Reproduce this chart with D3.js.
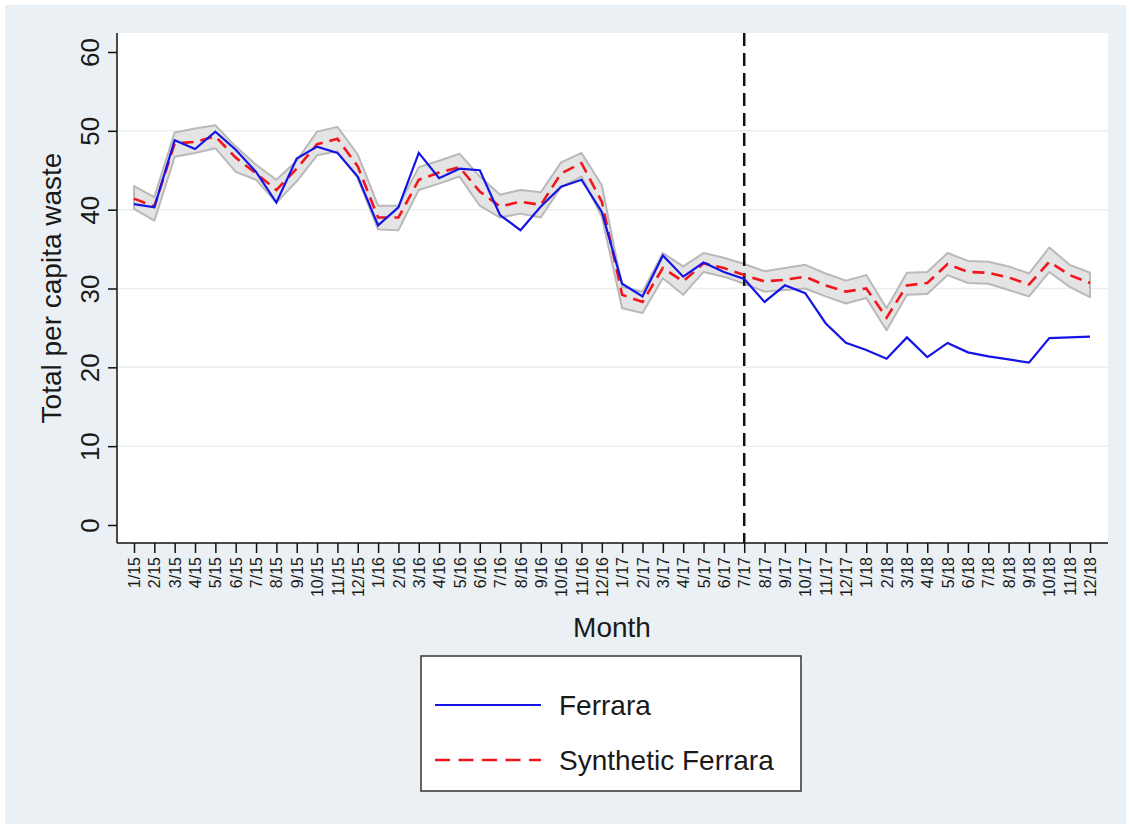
<!DOCTYPE html>
<html>
<head>
<meta charset="utf-8">
<script src="https://cdn.jsdelivr.net/npm/d3@7"></script>
<style>
  body { margin: 0; background: #fff; }
  svg { display: block; font-family: "Liberation Sans", Arial, sans-serif; }
</style>
</head>
<body>
<svg id="chart"></svg>
<script>
const svgWidth = 1130;
const svgHeight = 828;

// months 1/15 .. 12/18
const months = [
  "1/15","2/15","3/15","4/15","5/15","6/15","7/15","8/15","9/15","10/15","11/15","12/15",
  "1/16","2/16","3/16","4/16","5/16","6/16","7/16","8/16","9/16","10/16","11/16","12/16",
  "1/17","2/17","3/17","4/17","5/17","6/17","7/17","8/17","9/17","10/17","11/17","12/17",
  "1/18","2/18","3/18","4/18","5/18","6/18","7/18","8/18","9/18","10/18","11/18","12/18"
];

const ferrara = [
  40.7, 40.3, 48.8, 47.7, 49.9, 47.6, 44.8, 40.9, 46.5, 48.0, 47.2, 44.2,
  38.0, 40.3, 47.2, 44.0, 45.2, 45.0, 39.3, 37.4, 40.4, 42.9, 43.8, 39.7,
  30.6, 29.0, 34.2, 31.5, 33.3, 32.1, 31.2, 28.3, 30.4, 29.4, 25.6, 23.1,
  22.2, 21.1, 23.8, 21.3, 23.1, 21.9, 21.4, 21.0, 20.6, 23.7, 23.8, 23.9
];

const synthetic = [
  41.4, 40.4, 48.4, 48.6, 49.3, 46.6, 44.6, 42.5, 45.2, 48.3, 49.0, 45.5,
  39.0, 39.0, 43.8, 44.7, 45.4, 42.3, 40.4, 41.0, 40.6, 44.6, 45.9, 41.0,
  29.2, 28.3, 32.6, 30.9, 33.2, 32.6, 31.7, 30.9, 31.1, 31.5, 30.4, 29.6,
  30.0, 26.3, 30.4, 30.7, 33.1, 32.1, 32.0, 31.4, 30.5, 33.4, 31.7, 30.7
];

const bandUpper = [
  43.0, 41.6, 49.8, 50.3, 50.7, 48.0, 45.7, 43.8, 46.2, 49.9, 50.5, 47.0,
  40.5, 40.5, 45.4, 46.2, 47.1, 44.2, 41.9, 42.5, 42.2, 46.0, 47.2, 43.1,
  30.2, 29.6, 34.5, 32.8, 34.5, 33.9, 33.1, 32.2, 32.6, 33.0, 31.9, 31.0,
  31.7, 27.5, 32.0, 32.1, 34.5, 33.5, 33.4, 32.8, 31.9, 35.2, 33.0, 32.0
];

const bandLower = [
  40.1, 38.6, 46.7, 47.2, 47.8, 44.8, 43.8, 40.9, 43.6, 46.9, 47.4, 44.0,
  37.5, 37.4, 42.5, 43.3, 44.2, 40.5, 39.0, 39.5, 39.0, 42.9, 44.2, 39.1,
  27.5, 26.9, 31.3, 29.2, 32.1, 31.5, 30.6, 29.6, 29.8, 30.0, 29.0, 28.1,
  28.8, 24.7, 29.2, 29.3, 31.7, 30.7, 30.6, 29.8, 29.0, 32.1, 30.2, 28.9
];

const yTicks = [0, 10, 20, 30, 40, 50, 60];
const gridValues = [10, 20, 30, 40, 50];
const treatMonth = "7/17";

const seriesNames = ["Ferrara", "Synthetic Ferrara"];

const svg = d3.select("#chart")
  .attr("width", svgWidth)
  .attr("height", svgHeight);

// outer stata-like background
svg.append("rect")
  .attr("x", 5).attr("y", 5)
  .attr("width", 1121).attr("height", 819)
  .attr("fill", "#eaf0f3");

const plot = { left: 117, right: 1108, top: 33, bottom: 543 };

svg.append("rect")
  .attr("x", plot.left).attr("y", plot.top)
  .attr("width", plot.right - plot.left)
  .attr("height", plot.bottom - plot.top)
  .attr("fill", "#fff");

const x = d3.scalePoint().domain(months).range([134, 1090]);
const y = d3.scaleLinear().domain([0, 60]).range([525, 52]);

// grid
svg.append("g")
  .selectAll("line")
  .data(gridValues)
  .enter().append("line")
  .attr("x1", plot.left + 1).attr("x2", plot.right)
  .attr("y1", d => y(d)).attr("y2", d => y(d))
  .attr("stroke", "#e8eff1")
  .attr("stroke-width", 1.5);

// confidence band
const rows = months.map((m, i) => ({ m, lo: bandLower[i], hi: bandUpper[i], f: ferrara[i], s: synthetic[i] }));

svg.append("path")
  .datum(rows)
  .attr("d", d3.area().x(d => x(d.m)).y0(d => y(d.lo)).y1(d => y(d.hi)))
  .attr("fill", "#e4e4e4")
  .attr("stroke", "#b9b9b9")
  .attr("stroke-width", 2)
  .attr("stroke-linejoin", "round");

// treatment line
svg.append("line")
  .attr("x1", x(treatMonth)).attr("x2", x(treatMonth))
  .attr("y1", plot.top).attr("y2", plot.bottom)
  .attr("stroke", "#111")
  .attr("stroke-width", 2.5)
  .attr("stroke-dasharray", "13,7");

// synthetic
svg.append("path")
  .datum(rows)
  .attr("d", d3.line().x(d => x(d.m)).y(d => y(d.s)))
  .attr("fill", "none")
  .attr("stroke", "#f0161c")
  .attr("stroke-width", 2.6)
  .attr("stroke-dasharray", "12,7");

// ferrara
svg.append("path")
  .datum(rows)
  .attr("d", d3.line().x(d => x(d.m)).y(d => y(d.f)))
  .attr("fill", "none")
  .attr("stroke", "#1414e6")
  .attr("stroke-width", 2.2);

// y axis
const yAxis = svg.append("g")
  .attr("transform", `translate(${plot.left},0)`)
  .call(d3.axisLeft(y).tickValues(yTicks).tickSize(9).tickPadding(0).tickFormat(d3.format("d")));
yAxis.select(".domain").attr("d", `M0,${plot.top}V${plot.bottom}`).attr("stroke", "#111").attr("stroke-width", 1.5);
yAxis.selectAll(".tick line").attr("stroke", "#111").attr("stroke-width", 1.5);
yAxis.selectAll(".tick text")
  .attr("transform", "translate(-27,0) rotate(-90)")
  .attr("x", 0).attr("y", 0).attr("dy", "0.35em")
  .attr("text-anchor", "middle")
  .style("font-size", "26px").attr("fill", "#1a1a1a");

// x axis
const xAxis = svg.append("g")
  .attr("transform", `translate(0,${plot.bottom})`)
  .call(d3.axisBottom(x).tickSize(10));
xAxis.select(".domain").attr("d", `M${plot.left},0H${plot.right}`).attr("stroke", "#111").attr("stroke-width", 1.5);
xAxis.selectAll(".tick line").attr("stroke", "#111").attr("stroke-width", 1.5);
xAxis.selectAll(".tick text")
  .attr("transform", "translate(0,14) rotate(-90)")
  .attr("x", 0).attr("y", 0).attr("dy", "0.35em")
  .attr("text-anchor", "end")
  .style("font-size", "16px").attr("fill", "#1a1a1a");

// axis titles
svg.append("text")
  .attr("transform", `translate(61,288) rotate(-90)`)
  .attr("text-anchor", "middle")
  .style("font-size", "28px").attr("fill", "#1a1a1a")
  .text("Total per capita waste");

svg.append("text")
  .attr("x", 612).attr("y", 637)
  .attr("text-anchor", "middle")
  .style("font-size", "28px").attr("fill", "#1a1a1a")
  .text("Month");

// legend
const legend = svg.append("g");
legend.append("rect")
  .attr("x", 421).attr("y", 656)
  .attr("width", 380).attr("height", 135)
  .attr("fill", "#fff").attr("stroke", "#333").attr("stroke-width", 1.5);

const legendStyles = [
  { stroke: "#1414e6", dash: null, w: 2.2 },
  { stroke: "#f0161c", dash: "15,8.5", w: 2.6 }
];
seriesNames.forEach((name, i) => {
  const ly = 705 + i * 55;
  legend.append("line")
    .attr("x1", 435).attr("x2", 541)
    .attr("y1", ly).attr("y2", ly)
    .attr("stroke", legendStyles[i].stroke)
    .attr("stroke-width", legendStyles[i].w)
    .attr("stroke-dasharray", legendStyles[i].dash);
  legend.append("text")
    .attr("x", 559).attr("y", ly + 10)
    .style("font-size", "28px").attr("fill", "#1a1a1a")
    .text(name);
});
</script>
</body>
</html>
